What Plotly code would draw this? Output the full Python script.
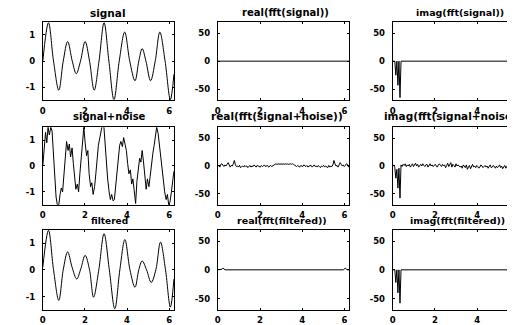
import numpy as np
import plotly.graph_objects as go

# page has an 8px body margin; figure is sized to fill the 515x325 window
OFF = 8
W, H = 515 - OFF, 325 - OFF

# ---------------- data ----------------
# clean signal: extrema and zero crossings
sig_t = [0.00, 0.27, 0.51, 0.76, 0.97, 1.18, 1.40, 1.59, 1.79, 2.01, 2.22, 2.44, 2.67, 2.91,
         3.14, 3.38, 3.63, 3.89, 4.13, 4.38, 4.56, 4.72, 4.90, 5.12, 5.34, 5.56, 5.81, 6.06, 6.23]
sig_y = [0.0, 1.47, 0.0, -1.11, 0.0, 0.75, 0.0, -0.48, 0.0, 0.75, 0.0, -1.11, 0.0, 1.47,
         0.0, -1.47, 0.0, 1.11, 0.0, -0.75, 0.0, 0.48, 0.0, -0.75, 0.0, 1.11, 0.0, -1.47, -0.5]

# signal + noise
noisy_t = [0.00, 0.06, 0.13, 0.19, 0.25, 0.31, 0.38, 0.44, 0.50, 0.57,
           0.63, 0.69, 0.76, 0.82, 0.88, 0.94, 1.01, 1.07, 1.13, 1.20,
           1.26, 1.32, 1.39, 1.45, 1.51, 1.57, 1.64, 1.70, 1.76, 1.83,
           1.89, 1.95, 2.01, 2.08, 2.14, 2.20, 2.27, 2.33, 2.39, 2.46,
           2.52, 2.58, 2.64, 2.71, 2.77, 2.83, 2.90, 2.96, 3.02, 3.08,
           3.15, 3.21, 3.27, 3.34, 3.40, 3.46, 3.53, 3.59, 3.65, 3.71,
           3.78, 3.84, 3.90, 3.97, 4.03, 4.09, 4.16, 4.22, 4.28, 4.34,
           4.41, 4.47, 4.53, 4.60, 4.66, 4.72, 4.78, 4.85, 4.91, 4.97,
           5.04, 5.10, 5.16, 5.23, 5.29, 5.35, 5.41, 5.48, 5.54, 5.60,
           5.67, 5.73, 5.79, 5.86, 5.92, 5.98, 6.04, 6.11, 6.17, 6.23]
noisy_y = [0.0, 0.7, 1.3, 0.9, 1.5, 1.2, 1.5, 1.35, 0.6, -0.4,
           -1.2, -1.5, -1.5, -1.1, -0.85, -1.0, -0.3, 0.4, 0.95, 0.6,
           0.85, 0.35, 0.7, 0.1, -0.5, -0.9, -0.7, -1.0, -0.3, 0.3,
           0.8, 1.5, 0.9, 0.4, 0.6, -0.3, -0.8, -0.65, -1.1, -0.8,
           -0.3, 0.3, 0.8, 1.1, 1.4, 1.6, 1.55, 0.8, 0.1, -0.5,
           -1.0, -1.3, -1.1, -1.35, -1.3, -0.8, -0.2, 0.4, 0.8, 0.95,
           0.75, 1.1, 0.9, 0.6, 0.1, -0.3, -0.15, -0.7, -0.5, -1.0,
           -1.45, -0.6, -0.1, 0.3, 0.15, 0.6, 0.2, -0.3, -0.9, -0.5,
           -0.8, -0.4, 0.1, 0.5, 0.8, 1.1, 1.5, 1.25, 0.8, 0.3,
           -0.2, -0.6, -1.0, -1.3, -1.1, -1.5, -1.4, -1.0, -0.6, -0.2]

# filtered signal: extrema and crossings
filt_t = [0.00, 0.27, 0.51, 0.76, 0.97, 1.18, 1.39, 1.61, 1.81, 2.01, 2.22, 2.41, 2.66, 2.91,
          3.16, 3.42, 3.66, 3.90, 4.14, 4.38, 4.56, 4.72, 4.93, 5.15, 5.37, 5.59, 5.83, 6.06, 6.23]
filt_y = [0.1, 1.47, 0.0, -1.14, 0.0, 0.67, 0.1, -0.34, 0.05, 0.54, 0.0, -1.02, 0.0, 1.35,
          0.0, -1.45, 0.0, 1.13, 0.0, -0.65, 0.0, 0.33, 0.0, -0.47, 0.0, 1.03, 0.0, -1.39, -0.34]

N_BINS = 128

# FFT of clean signal (sparse bins -> values)
real_sig_bins = [0, 127]
real_sig_vals = [0, 0]
imag_sig_bins = [0, 2, 3, 4, 5, 6, 7, 8, 120, 121, 122, 123, 124, 125, 126, 127]
imag_sig_vals = [0, 0, -25, 0, -43, 0, -65, 0, 0, 65, 0, 43, 0, 25, 0, 0]

# FFT of signal + noise (all 128 bins)
real_noisy_vals = [-1, 1, -2, 3, 4, 1, -1, 2, 0, 3,
                   6, 2, -2, 1, 0, 4, 10, 2, -1, 0,
                   -2, 1, -3, -1, 0, -2, 1, -1, 0, -3,
                   -1, 1, -2, 0, -1, 2, 0, -2, 1, 0,
                   0, -2, 1, -1, 0, 2, -1, 0, 1, -2,
                   0, 1, -1, 0, 2, 3, 4, 3, 4, 4,
                   3, 4, 3, 4, 3, 4, 3, 4, 3, 4,
                   4, 3, 4, 3, 2, 0, -1, 1, 0, -2,
                   1, 0, -1, 2, 0, -1, 1, -2, 0, 0,
                   1, -2, 0, 2, -1, 0, -2, 1, -1, -3,
                   0, -1, 1, -2, 0, -1, -3, 1, -2, 0,
                   -1, 2, 10, 4, 0, 1, -2, 2, 6, 3,
                   0, 2, -1, 1, 4, 3, -2, 1]
imag_noisy_vals = [0, 2, -3, -22, -6, -40, -4, -58, 2, -1,
                   3, 1, 4, -1, 2, 0, 3, -2, 1, 4,
                   -1, 2, 5, 0, 3, -2, 1, 3, 0, 4,
                   1, -1, 2, 3, -2, 1, 4, 0, 2, -1,
                   1, 3, 0, -2, 2, 4, 1, -1, 3, 0,
                   2, -3, 1, 5, -1, 2, 6, -2, 3, 1,
                   -2, 4, 0, 2, 0, -2, 0, -4, 2, -1,
                   -3, 2, -6, -2, 1, -5, -1, 3, -2, 0,
                   -3, 1, -1, -4, -2, 2, 0, -3, -1, 1,
                   -2, 0, -4, -1, 2, -3, -2, 1, -1, -4,
                   0, -3, -1, 2, -3, 0, -5, -2, 1, -4,
                   -1, 2, -3, 0, -2, 1, -4, -1, -3, 1,
                   -2, 58, 4, 40, 6, 22, 3, -2]

# FFT of filtered signal (sparse bins -> values)
real_filt_bins = [0, 3, 4, 5, 6, 7, 121, 122, 123, 124, 125, 127]
real_filt_vals = [0, 0, 1, 3, 1, 0, 0, 1, 3, 1, 0, 0]
imag_filt_bins = [0, 2, 3, 4, 5, 6, 7, 8, 120, 121, 122, 123, 124, 125, 126, 127]
imag_filt_vals = [0, 0, -22, 0, -40, 0, -58, 0, 0, 58, 0, 40, 0, 22, 0, 0]

titles = ["signal", "real(fft(signal))", "imag(fft(signal))",
          "signal+noise", "real(fft(signal+noise))", "imag(fft(signal+noise))",
          "filtered", "real(fft(filtered))", "imag(fft(filtered))"]

x_tickvals = [0, 2, 4, 6]
x_ticktext = ["0", "2", "4", "6"]
sig_tickvals = [-1, 0, 1]
sig_ticktext = ["-1", "0", "1"]
fft_tickvals = [-50, 0, 50]
fft_ticktext = ["-50", "0", "50"]


def bins_to_x(b):
    return np.asarray(b, dtype=float) * 2 * np.pi / N_BINS


series = [
    (sig_t, sig_y, "spline"),
    (bins_to_x(real_sig_bins), real_sig_vals, "linear"),
    (bins_to_x(imag_sig_bins), imag_sig_vals, "linear"),
    (noisy_t, noisy_y, "linear"),
    (bins_to_x(np.arange(len(real_noisy_vals))), real_noisy_vals, "linear"),
    (bins_to_x(np.arange(len(imag_noisy_vals))), imag_noisy_vals, "linear"),
    (filt_t, filt_y, "spline"),
    (bins_to_x(real_filt_bins), real_filt_vals, "linear"),
    (bins_to_x(imag_filt_bins), imag_filt_vals, "linear"),
]

# ---------------- layout (window pixels) ----------------
col_px = [(40, 172), (216, 348.5), (392, 515)]
row_px = [(22, 101), (128, 206), (231, 312)]
XMAX = 2 * np.pi * 127 / 128
col3_xmax = XMAX * (515 - 392) / 132.5

title_pos = [(106, 13), (284, 13), (460, 13),
             (107, 117), (276, 117), (453, 117),
             (107, 222), (281, 222), (457, 222)]
title_size = [10.5, 10, 9.5, 10, 10.5, 10.5, 9, 9.5, 9.5]


def px_x(p):
    return (p - OFF) / W


def px_y(p):
    return 1 - (p - OFF) / H


FONT = "DejaVu Sans"
tickfont = dict(family=FONT, size=8.5, color="black", weight="bold")

fig = go.Figure()
layout = dict(width=W, height=H, margin=dict(l=0, r=0, t=0, b=0),
              paper_bgcolor="white", plot_bgcolor="white", showlegend=False,
              annotations=[])

for i, (xs, ys, shape) in enumerate(series):
    r, c = divmod(i, 3)
    n = "" if i == 0 else str(i + 1)
    fig.add_trace(go.Scatter(x=xs, y=ys, mode="lines",
                             line=dict(color="black", width=1, shape=shape),
                             xaxis="x" + n, yaxis="y" + n, hoverinfo="skip"))
    x0, x1 = col_px[c]
    y0, y1 = row_px[r]
    xr = [0, col3_xmax] if c == 2 else [0, XMAX]
    layout["xaxis" + n] = dict(
        domain=[px_x(x0), min(1.0, px_x(x1))], range=xr, anchor="y" + n,
        tickvals=x_tickvals, ticktext=x_ticktext, ticks="inside", ticklen=2,
        tickcolor="black", showline=True, linecolor="black", linewidth=1,
        mirror="ticks", showgrid=False, zeroline=False, tickfont=tickfont,
        ticklabelstandoff=2)
    if c == 0:
        yr, tv, tt = [-1.5, 1.5], sig_tickvals, sig_ticktext
    else:
        yr, tv, tt = [-70, 70], fft_tickvals, fft_ticktext
    layout["yaxis" + n] = dict(
        domain=[px_y(y1), px_y(y0)], range=yr, anchor="x" + n,
        tickvals=tv, ticktext=tt, ticks="inside", ticklen=2, tickcolor="black",
        showline=True, linecolor="black", linewidth=1,
        mirror=("ticks" if c < 2 else False), showgrid=False, zeroline=False,
        tickfont=tickfont, ticklabelstandoff=5)
    tx, ty = title_pos[i]
    layout["annotations"].append(dict(
        text=titles[i], x=px_x(tx), y=px_y(ty), xref="paper", yref="paper",
        xanchor="center", yanchor="middle", showarrow=False,
        font=dict(family=FONT, size=title_size[i], color="black", weight="bold")))

fig.update_layout(**layout)
fig.write_html("out.html")
